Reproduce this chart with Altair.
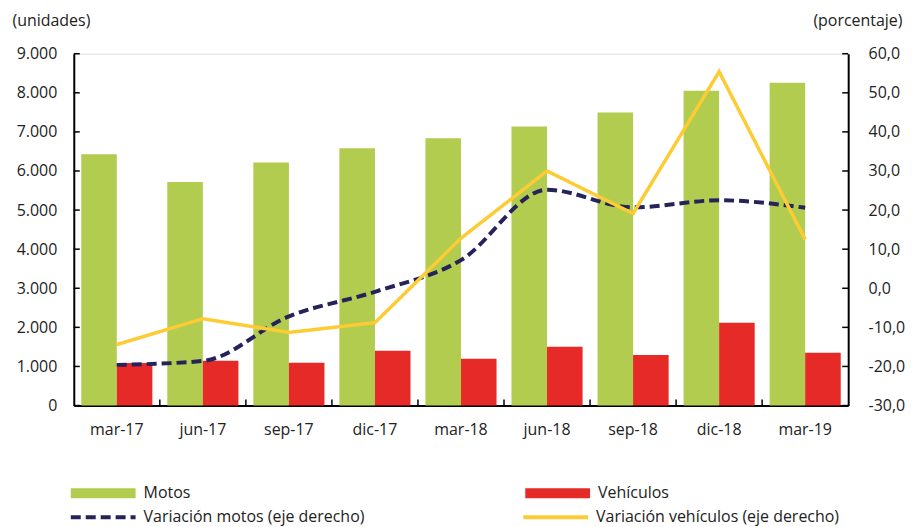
import altair as alt
import pandas as pd

# ---------------- data ----------------
periodos = ["mar-17", "jun-17", "sep-17", "dic-17", "mar-18",
            "jun-18", "sep-18", "dic-18", "mar-19"]
motos = [6425, 5720, 6220, 6580, 6835, 7140, 7495, 8055, 8260]
vehiculos = [1090, 1145, 1095, 1400, 1200, 1505, 1290, 2115, 1350]
var_motos = [-19.6, -18.6, -7.2, -0.9, 7.2, 25.2, 20.7, 22.5, 20.6]
var_vehiculos = [-14.4, -7.8, -11.3, -8.8, 12.8, 30.0, 19.1, 55.4, 12.5]

ticks_unidades = [0, 1000, 2000, 3000, 4000, 5000, 6000, 7000, 8000, 9000]
ticks_porcentaje = [-30, -20, -10, 0, 10, 20, 30, 40, 50, 60]

series_barras = ["Motos", "Vehículos"]
series_lineas = ["Variación motos (eje derecho)", "Variación vehículos (eje derecho)"]

# ---------------- tables ----------------
df_barras = pd.DataFrame({
    "periodo": periodos * 2,
    "serie": [series_barras[0]] * len(periodos) + [series_barras[1]] * len(periodos),
    "valor": motos + vehiculos,
})
df_var_motos = pd.DataFrame({"periodo": periodos, "serie": series_lineas[0], "variacion": var_motos})
df_var_veh = pd.DataFrame({"periodo": periodos, "serie": series_lineas[1], "variacion": var_vehiculos})
df_ticks_izq = pd.DataFrame({"valor": ticks_unidades})
df_ticks_der = pd.DataFrame({"variacion": ticks_porcentaje})
df_ticks_x = pd.DataFrame({"periodo": periodos[1:]})

# ---------------- style ----------------
FONT = "Open Sans"
TXT = "#222222"
W, H = 777, 353
VERDE, ROJO = "#B2CC4F", "#E52A27"
AZUL, AMARILLO = "#25235A", "#FDCB33"

x_axis = alt.Axis(title=None, labelAngle=0, tickSize=0, domainColor="black",
                  domainWidth=2, labelPadding=16, labelFontSize=16,
                  labelColor=TXT, labelFont=FONT, grid=False)
x_scale = alt.Scale(paddingInner=0, paddingOuter=0)
x_enc = alt.X("periodo:N", sort=periodos, scale=x_scale, axis=x_axis)
x_enc_borde = alt.X("periodo:N", sort=periodos, scale=x_scale, axis=x_axis, bandPosition=0)

y_left_axis = alt.Axis(values=ticks_unidades,
                       labelExpr="replace(format(datum.value, ','), ',', '.')",
                       tickSize=0, grid=False, domainColor="black", domainWidth=2,
                       labelPadding=17, labelFontSize=16, labelFont=FONT, labelColor=TXT,
                       title="(unidades)", titleAngle=0, titleAlign="left",
                       titleBaseline="alphabetic", titleX=-62, titleY=-28,
                       titleFontWeight="normal", titleFontSize=16, titleFont=FONT,
                       titleColor=TXT)
y_left = alt.Y("valor:Q", scale=alt.Scale(domain=[0, 9000], nice=False), axis=y_left_axis)

y_right_axis = alt.Axis(orient="right", values=ticks_porcentaje,
                        labelExpr="(datum.value < 0 ? '-' : '') + replace(format(abs(datum.value), '.1f'), '.', ',')",
                        tickSize=0, grid=False, domainColor="black", domainWidth=2,
                        labelPadding=20, labelFontSize=16, labelFont=FONT, labelColor=TXT,
                        title="(porcentaje)", titleAngle=0, titleAlign="right",
                        titleBaseline="alphabetic", titleX=54, titleY=-28,
                        titleFontWeight="normal", titleFontSize=16, titleFont=FONT,
                        titleColor=TXT)
y_right = alt.Y("variacion:Q", scale=alt.Scale(domain=[-30, 60], nice=False, zero=False),
                axis=y_right_axis)

legend_barras = alt.Legend(title=None, orient="none", legendX=-6, legendY=433,
                           direction="horizontal", columns=2, columnPadding=333,
                           symbolType="M-1,-1L12,-1L12,1L-1,1Z", symbolSize=100,
                           symbolStrokeWidth=0, labelOffset=60, labelFontSize=16,
                           labelLimit=500, labelFont=FONT, labelColor=TXT, padding=0)
legend_lineas = alt.Legend(title=None, orient="none", legendX=-6, legendY=457,
                           direction="horizontal", columns=2, columnPadding=151,
                           symbolType="M-1,0L12,0", symbolSize=100,
                           symbolStrokeWidth=4, symbolFillColor="transparent",
                           labelOffset=60, labelFontSize=16, labelLimit=500,
                           labelFont=FONT, labelColor=TXT, padding=0)

stroke_enc = alt.Stroke("serie:N", scale=alt.Scale(domain=series_lineas, range=[AZUL, AMARILLO]),
                        legend=legend_lineas)
dash_enc = alt.StrokeDash("serie:N", scale=alt.Scale(domain=series_lineas, range=[[10, 5], [1, 0]]),
                          legend=legend_lineas)

# ---------------- layers ----------------
barras = alt.Chart(df_barras).mark_bar().encode(
    x=x_enc,
    xOffset=alt.XOffset("serie:N", sort=series_barras,
                        scale=alt.Scale(domain=series_barras, paddingInner=0, paddingOuter=0.21)),
    y=y_left,
    fill=alt.Fill("serie:N", scale=alt.Scale(domain=series_barras, range=[VERDE, ROJO]),
                  legend=legend_barras),
)
ticks_izq = alt.Chart(df_ticks_izq).mark_rule(color="black", strokeWidth=1.5).encode(
    y=y_left, x=alt.value(0), x2=alt.value(6))
ticks_x = alt.Chart(df_ticks_x).mark_rule(color="black", strokeWidth=1.5).encode(
    x=x_enc_borde, y=alt.value(H - 6), y2=alt.value(H))

linea_motos = alt.Chart(df_var_motos).mark_line(strokeWidth=4, interpolate="monotone").encode(
    x=x_enc, y=y_right, stroke=stroke_enc, strokeDash=dash_enc)
linea_veh = alt.Chart(df_var_veh).mark_line(strokeWidth=3.5).encode(
    x=x_enc, y=y_right, stroke=stroke_enc, strokeDash=dash_enc)
ticks_der = alt.Chart(df_ticks_der).mark_rule(color="black", strokeWidth=1.5).encode(
    y=y_right, x=alt.value(W - 6), x2=alt.value(W))

izquierda = alt.layer(barras, ticks_izq, ticks_x)
derecha = alt.layer(linea_motos, linea_veh, ticks_der)

chart = (
    alt.layer(izquierda, derecha)
    .resolve_scale(y="independent")
    .properties(width=W, height=H, background="white",
                padding={"left": 4, "top": 4, "right": 1, "bottom": 0})
    .configure_view(stroke=None)
    .configure(font=FONT)
)

chart.save("out.html", embed_options={"renderer": "svg", "actions": False})
